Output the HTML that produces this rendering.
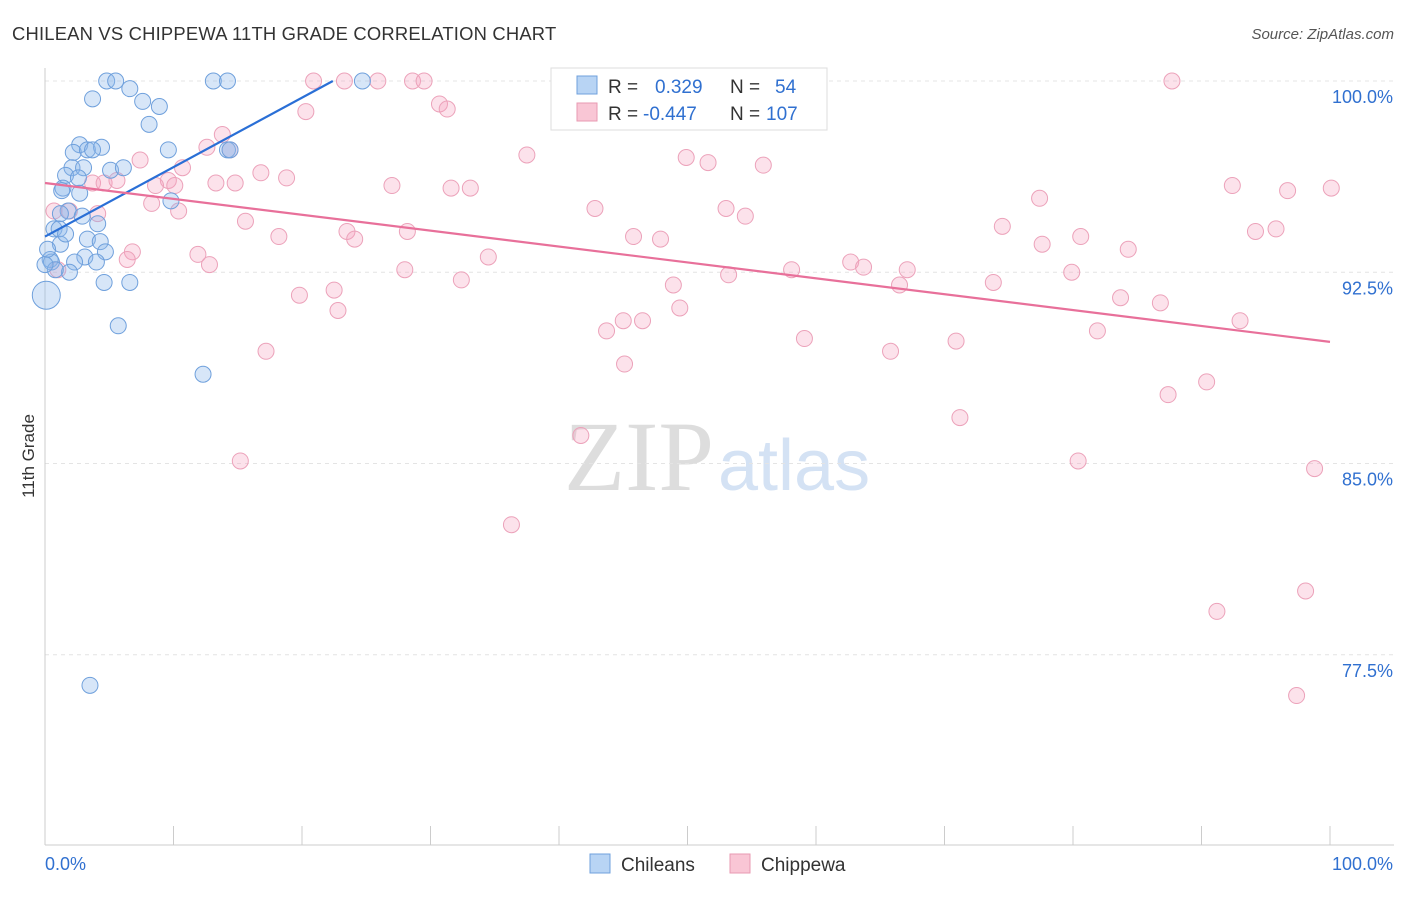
<!DOCTYPE html>
<html><head><meta charset="utf-8"><style>
body{margin:0;background:#fff;font-family:"Liberation Sans",sans-serif}
</style></head><body>
<svg id="c" width="1406" height="892" xmlns="http://www.w3.org/2000/svg">
<text x="12" y="40" font-size="18.4" fill="#333" letter-spacing="0.2">CHILEAN VS CHIPPEWA 11TH GRADE CORRELATION CHART</text>
<text x="1394" y="39" font-size="15" fill="#555" font-style="italic" text-anchor="end">Source: ZipAtlas.com</text>
<text x="714" y="490" font-size="100" fill="#ddd" text-anchor="end" font-family="Liberation Serif">ZIP</text>
<text x="718" y="490" font-size="72" fill="#d4e2f4">atlas</text>
<text transform="translate(34,456) rotate(-90)" font-size="17" fill="#333" text-anchor="middle">11th Grade</text>
<g id="grid"></g><g id="marks"></g>
<g>
<rect x="551" y="68" width="276" height="62" fill="#fff" stroke="#ddd"/>
<rect x="577" y="76" width="20" height="18" fill="#b8d4f4" stroke="#6fa0dc"/>
<rect x="577" y="103" width="20" height="18" fill="#f9c6d5" stroke="#e89ab2"/>
<text x="608" y="93" font-size="19" fill="#333">R =</text><text x="655" y="93" font-size="19" fill="#3070d0">0.329</text>
<text x="730" y="93" font-size="19" fill="#333">N =</text><text x="775" y="93" font-size="19" fill="#3070d0">54</text>
<text x="608" y="120" font-size="19" fill="#333">R =</text><text x="643" y="120" font-size="19" fill="#3070d0">-0.447</text>
<text x="730" y="120" font-size="19" fill="#333">N =</text><text x="766" y="120" font-size="19" fill="#3070d0">107</text>
</g>
<g>
<rect x="590" y="854" width="20" height="19" fill="#b8d4f4" stroke="#6fa0dc"/><text x="621" y="871" font-size="19" fill="#333">Chileans</text>
<rect x="730" y="854" width="20" height="19" fill="#f9c6d5" stroke="#e89ab2"/><text x="761" y="871" font-size="19" fill="#333">Chippewa</text>
</g>
</svg>
<script>
const yTicks=[100,92.5,85,77.5];
const yTickLabels=["100.0%","92.5%","85.0%","77.5%"];
const blueX=[4.8,5.5,13.1,14.2,24.7,3.7,6.6,7.6,8.9,8.1,2.7,2.2,3.3,4.4,3.7,9.6,14.2,2.1,3.0,5.1,6.1,1.6,2.6,1.4,1.3,2.7,9.8,1.8,2.9,4.1,0.7,1.1,3.3,1.2,4.3,4.7,3.1,0.4,0.5,2.3,4.0,1.9,4.6,6.6,5.7,12.3,3.5,0.1,0.8,1.2,14.4,0.0,0.2,1.6];
const blueY=[100,100,100,100,100,99.3,99.7,99.2,99.0,98.3,97.5,97.2,97.3,97.4,97.3,97.3,97.3,96.6,96.6,96.5,96.6,96.3,96.2,95.8,95.7,95.6,95.3,94.9,94.7,94.4,94.2,94.2,93.8,93.6,93.7,93.3,93.1,93.0,92.9,92.9,92.9,92.5,92.1,92.1,90.4,88.5,76.3,91.6,92.6,94.8,97.3,92.8,93.4,94.0];
const pinkX=[20.9,23.3,25.9,28.6,29.5,87.7,30.7,31.3,20.3,13.8,12.6,14.4,37.5,49.9,51.6,55.9,7.4,10.7,16.8,18.8,9.6,13.3,14.8,3.7,4.6,5.6,8.6,10.1,27.0,31.6,33.1,92.4,96.7,100.1,8.3,10.4,42.8,53.0,54.5,0.7,1.9,15.6,77.4,74.5,23.5,24.1,28.2,45.8,47.9,18.2,94.2,95.8,80.6,77.6,84.3,6.8,11.9,34.5,12.8,28.0,32.4,62.7,63.7,67.1,58.1,79.9,53.2,48.9,66.5,73.8,19.8,22.5,22.8,83.7,86.8,49.4,43.7,45.0,46.5,93.0,81.9,59.1,70.9,65.8,17.2,45.1,90.4,87.4,71.2,41.7,15.2,80.4,98.8,36.3,91.2,98.1,97.4,6.4,4.1,1.0];
const pinkY=[100,100,100,100,100,100,99.1,98.9,98.8,97.9,97.4,97.3,97.1,97.0,96.8,96.7,96.9,96.6,96.4,96.2,96.1,96.0,96.0,96.0,96.0,96.1,95.9,95.9,95.9,95.8,95.8,95.9,95.7,95.8,95.2,94.9,95.0,95.0,94.7,94.9,94.9,94.5,95.4,94.3,94.1,93.8,94.1,93.9,93.8,93.9,94.1,94.2,93.9,93.6,93.4,93.3,93.2,93.1,92.8,92.6,92.2,92.9,92.7,92.6,92.6,92.5,92.4,92.0,92.0,92.1,91.6,91.8,91.0,91.5,91.3,91.1,90.2,90.6,90.6,90.6,90.2,89.9,89.8,89.4,89.4,88.9,88.2,87.7,86.8,86.1,85.1,85.1,84.8,82.6,79.2,80.0,75.9,93.0,94.8,92.6];
const blueTrend=[[0,93.9],[22.4,100]];
const pinkTrend=[[0,96.0],[100,89.77]];
const X=v=>45+v*12.85, Y=v=>81+(100-v)*25.5;
const NS="http://www.w3.org/2000/svg";
function mk(t,a,p){const e=document.createElementNS(NS,t);for(const k in a)e.setAttribute(k,a[k]);p.appendChild(e);return e;}
const grid=document.getElementById('grid'),marks=document.getElementById('marks');
yTicks.forEach((t,i)=>{
 const l=mk('line',{x1:45,x2:1394,y1:Y(t),y2:Y(t),stroke:'#e4e4e4','stroke-dasharray':'4,4'},grid);
 
 
 const tx=mk('text',{x:1393,y:Y(t)+22,'font-size':18,fill:'#3070d0','text-anchor':'end'},grid);tx.textContent=yTickLabels[i];
 
 
});
mk('line',{x1:45,x2:45,y1:68,y2:845,stroke:'#ccc'},grid);
mk('line',{x1:45,x2:1394,y1:845,y2:845,stroke:'#ccc'},grid);
for(let i=0;i<=10;i++){const t=mk('line',{x1:X(i*10),x2:X(i*10),y1:826,y2:845,stroke:'#ccc'},grid);
 
 }
const a=mk('text',{x:45,y:870,'font-size':18,fill:'#3070d0'},grid);a.textContent="0.0%";


const b=mk('text',{x:1393,y:870,'font-size':18,fill:'#3070d0','text-anchor':'end'},grid);b.textContent="100.0%";


pinkX.forEach((x,i)=>{const c=mk('circle',{cx:X(x),cy:Y(pinkY[i]),r:8,fill:'rgba(244,160,188,0.3)',stroke:'#eca2ba','stroke-width':1},marks);
 
 });
blueX.forEach((x,i)=>{const c=mk('circle',{cx:X(x),cy:Y(blueY[i]),r:i==47?14:8,fill:'rgba(140,182,236,0.35)',stroke:'#6fa0dc','stroke-width':1},marks);
 
 });
const bl=mk('line',{x1:X(blueTrend[0][0]),y1:Y(blueTrend[0][1]),x2:X(blueTrend[1][0]),y2:Y(blueTrend[1][1]),stroke:'#2a6fd6','stroke-width':2.2},marks);


const pl=mk('line',{x1:X(pinkTrend[0][0]),y1:Y(pinkTrend[0][1]),x2:X(pinkTrend[1][0]),y2:Y(pinkTrend[1][1]),stroke:'#e8709a','stroke-width':2.2},marks);


</script>
</body></html>
